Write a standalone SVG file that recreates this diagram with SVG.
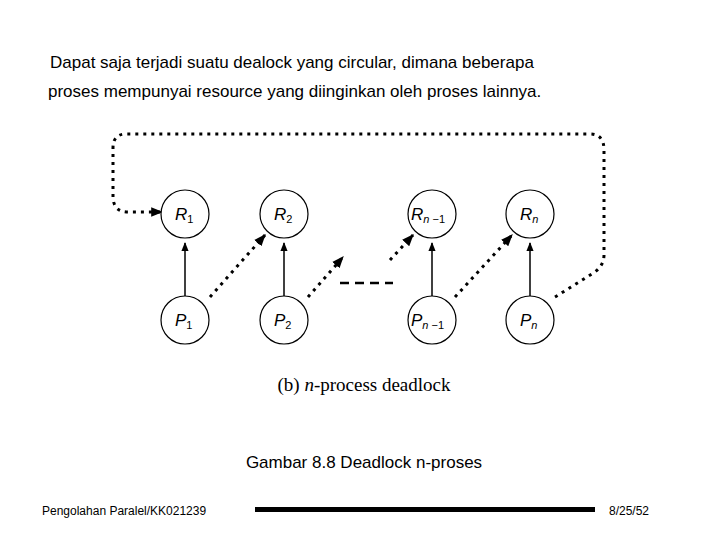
<svg xmlns="http://www.w3.org/2000/svg" width="720" height="540" viewBox="0 0 720 540">
<style>
.t{font-family:"Liberation Sans",Arial,sans-serif;fill:#000}
.n{fill:#fff;stroke:#000;stroke-width:1.2}
.l{font-family:"Liberation Sans",Arial,sans-serif;font-style:italic;font-size:17px;fill:#000}
.s{font-size:11px;font-style:normal}
.i{font-size:11px;font-style:italic}
.c{fill:none;stroke:#000}
.v{stroke-width:1.5}
.d{stroke-width:3;stroke-dasharray:3 5}
</style>
<defs>
<marker id="a" viewBox="0 0 10 10" refX="9" refY="5" markerWidth="4" markerHeight="4" orient="auto"><path d="M0,1L10,5L0,9z"/></marker>
<marker id="b" viewBox="0 0 10 10" refX="9" refY="5" markerWidth="6" markerHeight="6" orient="auto"><path d="M0,1L10,5L0,9z"/></marker>
</defs>
<rect width="720" height="540" fill="#fff"/>
<text class="t" x="50" y="68" font-size="17">Dapat saja terjadi suatu dealock yang circular, dimana beberapa</text>
<text class="t" x="48" y="97" font-size="17">proses mempunyai resource yang diinginkan oleh proses lainnya.</text>
<g id="connectors">
<path class="c v" d="M185,296V243" marker-end="url(#b)"/>
<path class="c v" d="M284,296V243" marker-end="url(#b)"/>
<path class="c v" d="M432,296V243" marker-end="url(#b)"/>
<path class="c v" d="M530,296V243" marker-end="url(#b)"/>
<path class="c d" d="M210,297L265,235" marker-end="url(#a)"/>
<path class="c d" d="M308,297L343,257" marker-end="url(#a)"/>
<path class="c" stroke-width="2.5" stroke-dasharray="9 6" d="M340,283H393"/>
<path class="c d" d="M390,260L413,235" marker-end="url(#a)"/>
<path class="c d" d="M455,297L512,235" marker-end="url(#a)"/>
<path class="c d" d="M555,297L595,272Q604,265 604,255V150Q604,134 590,134H126Q113,134 113,148V196Q113,212 128,212H162" marker-end="url(#a)"/>
</g>
<g id="R1"><circle class="n" cx="185" cy="214" r="24"/><text class="l" x="175" y="220">R<tspan class="s" dy="3">1</tspan></text></g>
<g id="R2"><circle class="n" cx="284" cy="214" r="24"/><text class="l" x="274" y="220">R<tspan class="s" dy="3">2</tspan></text></g>
<g id="Rn-1"><circle class="n" cx="432" cy="214" r="24"/><text class="l" x="411" y="220">R<tspan class="i" dy="3">n</tspan><tspan class="s"> −1</tspan></text></g>
<g id="Rn"><circle class="n" cx="530" cy="214" r="24"/><text class="l" x="520" y="220">R<tspan class="i" dy="3">n</tspan></text></g>
<g id="P1"><circle class="n" cx="185" cy="320" r="24"/><text class="l" x="175" y="326">P<tspan class="s" dy="3">1</tspan></text></g>
<g id="P2"><circle class="n" cx="284" cy="320" r="24"/><text class="l" x="274" y="326">P<tspan class="s" dy="3">2</tspan></text></g>
<g id="Pn-1"><circle class="n" cx="432" cy="320" r="24"/><text class="l" x="411" y="326">P<tspan class="i" dy="3">n</tspan><tspan class="s"> −1</tspan></text></g>
<g id="Pn"><circle class="n" cx="530" cy="320" r="24"/><text class="l" x="520" y="326">P<tspan class="i" dy="3">n</tspan></text></g>
<text x="364" y="391" text-anchor="middle" font-family="Liberation Serif,serif" font-size="19">(b) <tspan font-style="italic">n</tspan>-process deadlock</text>
<text class="t" x="364" y="468" text-anchor="middle" font-size="17">Gambar 8.8 Deadlock n-proses</text>
<text class="t" x="42" y="515" font-size="12">Pengolahan Paralel/KK021239</text>
<rect x="255" y="507" width="340" height="5"/>
<text class="t" x="609" y="515" font-size="12">8/25/52</text>
</svg>
